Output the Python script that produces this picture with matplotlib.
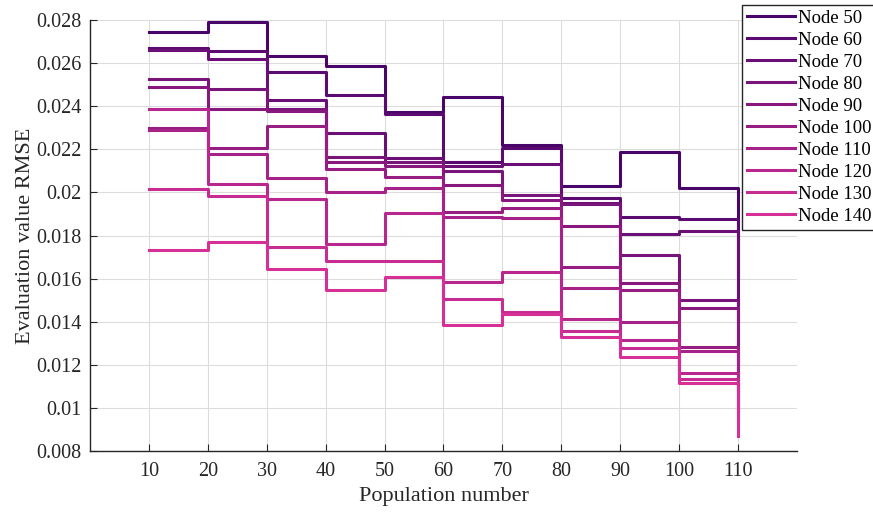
import matplotlib.pyplot as plt
import numpy as np

plt.rcParams['font.family'] = ['Liberation Serif', 'DejaVu Serif']

population = [10, 20, 30, 40, 50, 60, 70, 80, 90, 100, 110]

rmse_50 = [0.02746, 0.02789, 0.02633, 0.02586, 0.02372, 0.02444, 0.02220, 0.02031, 0.02186, 0.02019, 0.0162]
rmse_60 = [0.02668, 0.02656, 0.02560, 0.02452, 0.02362, 0.02142, 0.02205, 0.01973, 0.01887, 0.01875, 0.0148]
rmse_70 = [0.02660, 0.02618, 0.02429, 0.02274, 0.02161, 0.02124, 0.02130, 0.01952, 0.01807, 0.01820, 0.0140]
rmse_80 = [0.02525, 0.02480, 0.02385, 0.02166, 0.02142, 0.02099, 0.01988, 0.01948, 0.01709, 0.01500, 0.0128]
rmse_90 = [0.02489, 0.02386, 0.02378, 0.02140, 0.02124, 0.02034, 0.01965, 0.01844, 0.01581, 0.01462, 0.0122]
rmse_100 = [0.02300, 0.02205, 0.02308, 0.02109, 0.02073, 0.01910, 0.01929, 0.01655, 0.01547, 0.01282, 0.0115]
rmse_110 = [0.02290, 0.02177, 0.02066, 0.02003, 0.02019, 0.01887, 0.01883, 0.01555, 0.01397, 0.01265, 0.0108]
rmse_120 = [0.02388, 0.02039, 0.01968, 0.01760, 0.01903, 0.01585, 0.01632, 0.01411, 0.01315, 0.01163, 0.0100]
rmse_130 = [0.02014, 0.01983, 0.01748, 0.01683, 0.01683, 0.01505, 0.01446, 0.01358, 0.01277, 0.01133, 0.0094]
rmse_140 = [0.01733, 0.01771, 0.01645, 0.01547, 0.01609, 0.01385, 0.01434, 0.01330, 0.01235, 0.01114, 0.0087]

series = [rmse_50, rmse_60, rmse_70, rmse_80, rmse_90,
          rmse_100, rmse_110, rmse_120, rmse_130, rmse_140]
labels = ["Node 50", "Node 60", "Node 70", "Node 80", "Node 90",
          "Node 100", "Node 110", "Node 120", "Node 130", "Node 140"]

# purple -> pink
c_start = np.array([0.29, 0.02, 0.42])
c_end = np.array([0.84, 0.19, 0.59])
colors = [c_start + (c_end - c_start) * i / 9 for i in range(10)]

fig = plt.figure(figsize=(8.73, 5.12), dpi=100)
ax = fig.add_axes([0.103, 0.119, 0.81, 0.842])

for vals, lab, col in zip(series, labels, colors):
    ax.step(population, vals, where='post', color=col, linewidth=2.2, label=lab)

ax.set_xlim(0, 120)
ax.set_ylim(0.008, 0.028)
ax.set_xticks(population)
ax.set_yticks(np.arange(0.008, 0.0281, 0.002))
ax.set_yticklabels(["0.008", "0.01", "0.012", "0.014", "0.016", "0.018",
                    "0.02", "0.022", "0.024", "0.026", "0.028"])
ax.tick_params(direction='in', length=5, labelsize=14.5, colors='#262626')
ax.tick_params(axis='x', pad=8)
ax.tick_params(axis='y', pad=6)
ax.grid(True, color='#dcdcdc', linewidth=0.8)
ax.set_axisbelow(True)
for s in ['top', 'right']:
    ax.spines[s].set_visible(False)
for s in ['left', 'bottom']:
    ax.spines[s].set_color('#262626')
    ax.spines[s].set_linewidth(1.0)

ax.set_xlabel("Population number", fontsize=16, color='#262626', labelpad=4)
ax.set_ylabel("Evaluation value RMSE", fontsize=16, color='#262626', labelpad=1)

leg = fig.legend(loc='upper left', bbox_to_anchor=(0.850, 0.990),
                 fontsize=13.5, fancybox=False, framealpha=1,
                 edgecolor='#262626', handlelength=2.6, handletextpad=0.15,
                 labelspacing=0.26, borderpad=0.25, borderaxespad=0)
leg.get_frame().set_linewidth(1.0)

fig.savefig("out.png", dpi=100)
